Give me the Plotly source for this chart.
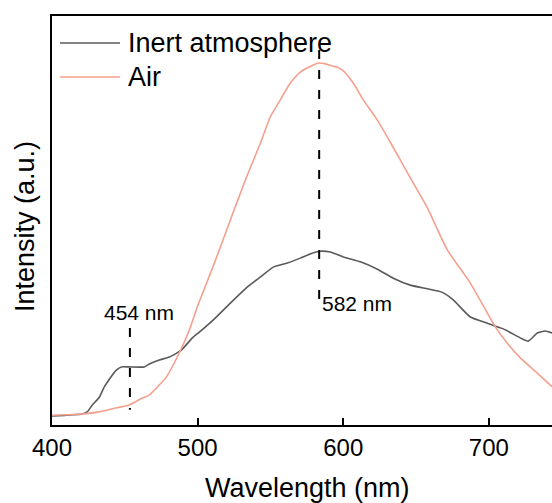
import plotly.graph_objects as go

# ---------------- data ----------------
series_names = ["Inert atmosphere", "Air"]

inert_wl = [400.0, 420.8, 424.2, 427.7, 432.5, 435.9, 439.4, 444.2, 447.6, 453.1,
            463.4, 466.8, 473.7, 480.6, 488.8, 496.4, 501.2, 510.8, 522.5, 534.1,
            543.1, 552.0, 561.6, 570.5, 579.5, 584.3, 591.1, 600.1, 611.8, 623.5,
            634.4, 646.1, 657.8, 664.6, 668.8, 675.6, 687.3, 699.0, 710.0, 721.6,
            727.1, 733.3, 738.8, 743.6]
inert_int = [2.2, 2.7, 3.2, 4.9, 6.8, 9.3, 11.2, 13.4, 14.2, 14.2,
             14.2, 14.9, 15.9, 16.6, 18.3, 21.3, 22.7, 25.7, 29.8, 33.7,
             36.2, 38.6, 39.6, 40.8, 42.1, 42.5, 42.3, 41.1, 39.9, 38.1,
             35.9, 34.2, 33.3, 32.8, 32.3, 30.6, 26.4, 24.9, 23.5, 21.3,
             20.5, 22.5, 23.0, 22.5]

air_wl = [400.0, 420.8, 432.5, 444.2, 453.1, 462.0, 466.8, 471.6, 478.5, 487.4,
          494.3, 499.8, 510.8, 522.5, 532.8, 543.1, 549.9, 556.8, 563.7, 570.5,
          579.5, 583.0, 587.8, 593.2, 596.0, 600.1, 606.9, 613.8, 623.4, 630.3,
          639.2, 646.1, 657.8, 671.5, 687.3, 704.5, 712.7, 721.6, 733.3, 743.6]
air_int = [2.4, 2.7, 3.2, 4.2, 4.9, 6.6, 7.3, 9.0, 11.7, 17.6,
           23.2, 28.9, 38.9, 50.1, 59.9, 68.9, 75.3, 79.5, 83.6, 86.3,
           88.0, 88.5, 88.3, 87.7, 87.5, 86.6, 83.6, 79.5, 74.6, 70.4,
           64.8, 60.4, 53.1, 42.8, 34.7, 24.0, 20.0, 16.4, 12.7, 9.3]

# peak markers: (position on axis, label, y-from, y-to)
peak_pos = [453.5, 583.5]
peak_labels = ["454 nm", "582 nm"]
peak_y_top = [23.7, 91.7]
peak_y_bot = [3.7, 30.6]

x_ticks = [400, 500, 600, 700]
x_range = [400, 743.4]
y_range = [0, 100]

x_title = "Wavelength (nm)"
y_title = "Intensity (a.u.)"

colors = ["#5a5a5a", "#f4a08e"]
FONT = "Arial, 'Liberation Sans', Arimo, sans-serif"

# plot-area geometry in pixels
L, R, T, B = 52, 552, 16, 425
PW, PH = R - L, B - T


def px(xpix):
    return (xpix - L) / PW


def py(ypix):
    return (B - ypix) / PH


# ---------------- figure ----------------
fig = go.Figure()
fig.add_trace(go.Scatter(x=inert_wl, y=inert_int, mode="lines", name=series_names[0],
                         line=dict(color=colors[0], width=1.6, shape="spline", smoothing=0.5),
                         showlegend=False))
fig.add_trace(go.Scatter(x=air_wl, y=air_int, mode="lines", name=series_names[1],
                         line=dict(color=colors[1], width=1.6, shape="spline", smoothing=0.5),
                         showlegend=False))

# dashed peak lines
for xp, yt, yb in zip(peak_pos, peak_y_top, peak_y_bot):
    fig.add_shape(type="line", xref="x", yref="y", x0=xp, x1=xp, y0=yt, y1=yb,
                  line=dict(color="black", width=2, dash="9px,11px"))

# peak labels
fig.add_annotation(x=px(139), y=py(312), xref="paper", yref="paper", text=peak_labels[0],
                   showarrow=False, xanchor="center", yanchor="middle",
                   font=dict(family=FONT, size=21, color="black"))
fig.add_annotation(x=peak_pos[1], y=py(303), xref="x", yref="paper", text=peak_labels[1],
                   showarrow=False, xanchor="left", yanchor="middle", xshift=1,
                   font=dict(family=FONT, size=21, color="black"))

# manual legend
legend_rows_y = [43, 77]
for name, col, rowy in zip(series_names, colors, legend_rows_y):
    fig.add_shape(type="line", xref="paper", yref="paper",
                  x0=px(60), x1=px(120), y0=py(rowy), y1=py(rowy),
                  line=dict(color=col, width=1.6))
    fig.add_annotation(xref="paper", yref="paper", x=px(126), y=py(rowy),
                       text=name, showarrow=False, xanchor="left", yanchor="middle",
                       font=dict(family=FONT, size=27, color="black"))

# axis titles
fig.add_annotation(xref="paper", yref="paper", x=px(307), y=py(488), text=x_title,
                   showarrow=False, xanchor="center", yanchor="middle",
                   font=dict(family=FONT, size=27, color="black"))
fig.add_annotation(xref="paper", yref="paper", x=px(25), y=py(227), text=y_title,
                   textangle=-90, showarrow=False, xanchor="center", yanchor="middle",
                   font=dict(family=FONT, size=27, color="black"))

fig.update_layout(
    width=552, height=503,
    margin=dict(l=L, r=552 - R, t=T, b=503 - B, autoexpand=False),
    paper_bgcolor="white", plot_bgcolor="white",
    font=dict(family=FONT, color="black"),
    showlegend=False,
)
fig.update_xaxes(
    range=x_range, tickvals=x_ticks, ticktext=[str(v) for v in x_ticks],
    ticks="inside", ticklen=7, tickwidth=1.5, tickcolor="black",
    showline=True, linecolor="black", linewidth=1.5, mirror=True,
    showgrid=False, zeroline=False, automargin=False,
    tickfont=dict(family=FONT, size=24, color="black"),
)
fig.update_yaxes(
    range=y_range, showticklabels=False, ticks="",
    showline=True, linecolor="black", linewidth=1.5, mirror=False,
    showgrid=False, zeroline=False, automargin=False,
)

fig.write_html(
    "out.html",
    config={"displayModeBar": False},
    post_script="document.body.style.margin='0';document.body.style.overflow='hidden';",
)
